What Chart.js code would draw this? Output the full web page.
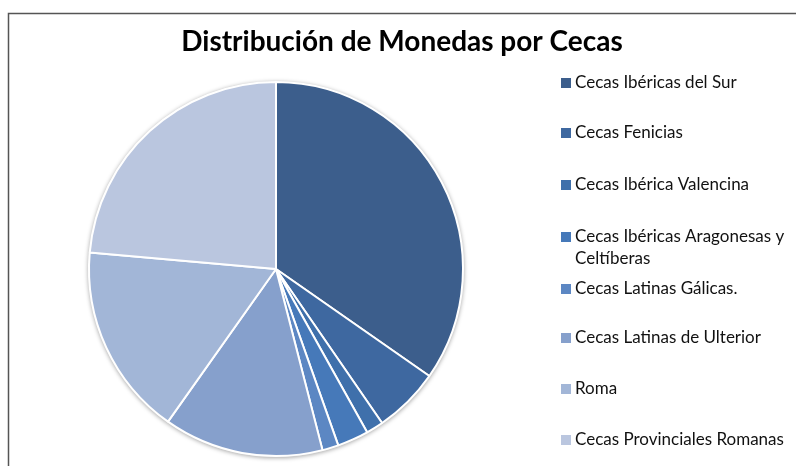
<!DOCTYPE html>
<html>
<head>
<meta charset="utf-8">
<script src="https://cdn.jsdelivr.net/npm/chart.js@4"></script>
<style>
  html, body { margin: 0; padding: 0; background: #fff; }
  #wrap { width: 796px; height: 466px; position: relative; }
</style>
</head>
<body>
<div id="wrap"><canvas id="cecasChart" width="796" height="466"></canvas></div>
<script>
const cecas = [
  "Cecas Ibéricas del Sur",
  "Cecas Fenicias",
  "Cecas Ibérica Valencina",
  ["Cecas Ibéricas Aragonesas y", "Celtíberas"],
  "Cecas Latinas Gálicas.",
  "Cecas Latinas de Ulterior",
  "Roma",
  "Cecas Provinciales Romanas",
];
// percent share
const porcentaje = [34.7, 5.7, 1.5, 2.7, 1.4, 13.8, 16.6, 23.6];
const colores = ["#3c5e8c", "#3e68a0", "#3f70ab", "#4679b9", "#5c87c3", "#86a0cc", "#a2b6d7", "#bac6df"];

const FONT = "Lato, 'Open Sans', sans-serif";

// soft grey halo round the pie, like the original
const sombra = {
  id: "sombra",
  beforeDatasetsDraw(chart) {
    const arc = chart.getDatasetMeta(0).data[0];
    if (!arc) return;
    const ctx = chart.ctx;
    ctx.save();
    ctx.beginPath();
    ctx.arc(arc.x, arc.y, arc.outerRadius + 1, 0, Math.PI * 2);
    ctx.shadowColor = "rgba(0,0,0,0.35)";
    ctx.shadowBlur = 4;
    ctx.shadowOffsetY = 1;
    ctx.fillStyle = "#ddd";
    ctx.fill();
    ctx.restore();
  },
};

// frame, title and legend drawn by hand so the long label can wrap
const decor = {
  id: "decor",
  afterDraw(chart) {
    const ctx = chart.ctx;
    ctx.save();
    ctx.strokeStyle = "#555";
    ctx.lineWidth = 1.5;
    ctx.strokeRect(8.5, 13.5, 800, 470);

    ctx.fillStyle = "#000";
    ctx.font = "bold 28px " + FONT;
    ctx.textAlign = "center";
    ctx.textBaseline = "middle";
    ctx.fillText("Distribución de Monedas por Cecas", 402, 42);

    ctx.font = "17px " + FONT;
    ctx.textAlign = "left";
    const rows = [83, 133, 185, 237, 289, 338, 389, 440];
    cecas.forEach((lab, i) => {
      const y = rows[i];
      ctx.fillStyle = colores[i];
      ctx.fillRect(561, y - 5, 10, 10);
      ctx.fillStyle = "#111";
      const lines = Array.isArray(lab) ? lab : [lab];
      lines.forEach((t, j) => ctx.fillText(t, 575, y + j * 22));
    });
    ctx.restore();
  },
};

new Chart(document.getElementById("cecasChart"), {
  type: "pie",
  data: {
    labels: cecas.map(l => Array.isArray(l) ? l.join(" ") : l),
    datasets: [{
      data: porcentaje,
      backgroundColor: colores,
      borderColor: "#ffffff",
      borderWidth: 2,
    }],
  },
  options: {
    responsive: false,
    animation: false,
    layout: { padding: { left: 88, top: 81, right: 332, bottom: 9 } },
    plugins: {
      legend: { display: false },
      tooltip: { enabled: false },
    },
  },
  plugins: [sombra, decor],
});
</script>
</body>
</html>
